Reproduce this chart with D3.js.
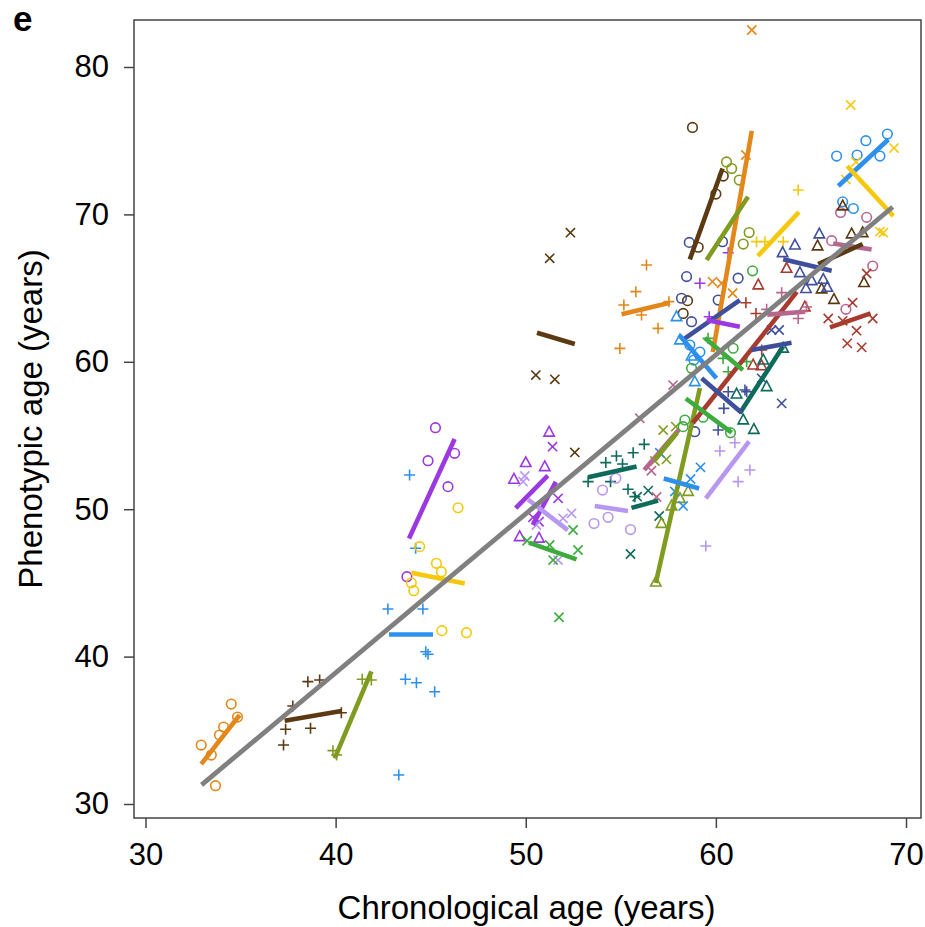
<!DOCTYPE html>
<html><head><meta charset="utf-8">
<script src="https://cdn.jsdelivr.net/npm/d3@7"></script>
<style>body{margin:0;background:#fff}svg{display:block}</style>
</head><body>
<svg id="c" width="925" height="927"></svg>
<script>
const xTicks = [30,40,50,60,70];
const yTicks = [30,40,50,60,70,80];
const overallFit = [[32.95,31.3],[69.3,70.5]];

// points: subject, chronological age, phenotypic age
const points = [
["S01",34.51,36.78],["S01",34.84,35.90],["S01",34.11,35.22],["S01",33.89,34.68],["S01",32.93,34.00],["S01",33.46,33.32],["S01",33.68,31.24],
["S02",38.54,38.30],["S02",39.16,38.41],["S02",37.75,36.65],["S02",40.30,36.19],["S02",37.37,35.07],["S02",38.68,35.14],["S02",37.26,34.00],
["S03",41.40,38.46],["S03",41.88,38.41],["S03",39.86,33.62],["S03",40.05,33.32],
["S04",43.89,52.32],["S04",44.21,47.35],["S04",42.75,43.23],["S04",44.59,43.23],["S04",44.74,40.33],["S04",44.86,40.16],["S04",43.67,38.46],["S04",44.25,38.23],["S04",45.21,37.62],["S04",43.32,31.97],
["S05",45.25,55.53],["S05",46.26,53.79],["S05",44.86,53.29],["S05",45.91,51.53],["S05",43.75,45.42],
["S06",46.44,50.10],["S06",44.42,47.46],["S06",45.30,46.33],["S06",45.56,45.76],["S06",43.98,45.01],["S06",44.11,44.47],["S06",45.59,41.76],["S06",46.88,41.62],
["S07",51.23,55.22],["S07",50.00,53.16],["S07",51.00,52.88],["S07",49.38,52.03],["S07",49.68,48.13],["S07",50.70,48.03],
["S08",51.41,54.24],["S08",51.70,50.74],["S08",50.38,49.45],["S08",50.70,49.15],
["S09",49.95,52.25],["S09",49.86,51.87],["S09",51.96,49.38],["S09",52.41,49.72],["S09",50.56,48.93],["S09",51.70,46.55],
["S10",50.07,47.86],["S10",51.26,47.57],["S10",52.49,48.59],["S10",52.75,47.23],["S10",51.44,46.55],["S10",51.75,42.67],
["S11",52.58,53.85],["S11",52.35,68.76],["S11",51.26,67.02],["S11",50.53,59.10],["S11",51.53,58.81],
["S12",56.35,66.57],["S12",55.79,64.76],["S12",55.16,63.85],["S12",56.09,63.17],["S12",56.96,62.27],["S12",54.95,60.91],["S12",57.53,64.08],
["S13",53.28,51.87],["S13",54.21,53.16],["S13",54.77,53.61],["S13",55.09,53.07],["S13",55.65,53.83],["S13",56.23,54.40],["S13",54.46,51.87],["S13",55.38,51.35],["S13",55.74,50.85],
["S14",55.86,50.85],["S14",56.44,51.26],["S14",57.02,49.54],["S14",55.51,46.96],
["S15",54.74,52.10],["S15",54.04,51.30],["S15",53.59,49.03],["S15",54.33,49.45],["S15",55.51,48.62],
["S16",56.00,56.17],["S16",56.61,52.61],["S16",56.88,50.83],["S16",57.75,58.42],
["S17",57.14,49.03],["S17",57.67,50.22],["S17",58.54,51.20],["S17",58.11,50.73],["S17",56.84,45.05],
["S18",57.23,55.37],["S18",57.40,53.38],["S18",56.79,53.27],["S18",57.89,55.60],
["S19",59.19,52.84],["S19",58.67,52.05],["S19",57.84,51.20],["S19",58.28,50.22],["S19",57.05,53.83],
["S20",60.21,53.95],["S20",61.00,54.51],["S20",61.17,51.87],["S20",61.79,52.66],["S20",59.47,47.50],
["S21",58.77,75.90],["S21",60.39,72.60],["S21",60.00,71.38],["S21",59.07,67.77],["S21",58.51,64.15],["S21",58.28,63.28],
["S22",61.58,74.03],["S22",61.89,82.51],["S22",59.82,65.44],["S22",60.30,65.33],["S22",60.88,64.65],
["S23",60.56,73.56],["S23",60.83,73.11],["S23",61.23,72.33],["S23",61.75,68.77],["S23",61.44,67.99],
["S24",62.14,68.15],["S24",62.58,68.15],["S24",63.54,68.15],["S24",64.33,71.66],
["S25",69.02,75.45],["S25",67.89,75.00],["S25",66.35,73.96],["S25",67.43,74.03],["S25",68.63,73.96],["S25",66.67,70.85],["S25",67.23,70.40],
["S26",67.09,77.42],["S26",69.37,74.50],["S26",67.37,73.56],["S26",66.84,72.37],["S26",68.63,68.83],["S26",68.81,68.76],
["S27",66.56,70.13],["S27",67.93,69.80],["S27",66.09,68.22],["S27",68.25,66.50],["S27",66.84,63.56],
["S28",66.67,70.57],["S28",65.35,67.86],["S28",67.14,68.67],["S28",67.72,68.76],["S28",67.79,65.37],["S28",66.21,64.23],["S28",65.56,64.94],
["S29",65.44,68.67],["S29",64.16,67.92],["S29",63.51,67.40],["S29",64.42,66.04],["S29",65.04,65.50],["S29",65.65,65.59],["S29",65.86,65.05],["S29",64.74,64.97],
["S30",65.91,62.94],["S30",66.67,62.78],["S30",67.19,64.01],["S30",67.40,62.11],["S30",66.91,61.25],["S30",67.67,60.98],["S30",68.25,62.94],["S30",67.93,65.99],
["S31",62.23,65.21],["S31",63.72,66.34],["S31",61.96,59.78],["S31",62.40,59.73],["S31",64.68,63.72],
["S32",63.46,64.69],["S32",62.67,63.56],["S32",64.33,62.94],["S32",64.77,63.72],
["S33",61.58,64.01],["S33",62.11,63.28],["S33",62.41,60.80],
["S34",61.09,57.81],["S34",61.44,56.05],["S34",62.67,58.31],["S34",62.49,60.12],["S34",63.54,60.92],["S34",62.00,55.41],
["S35",60.65,57.97],["S35",61.62,57.97],["S35",60.12,55.37],["S35",60.42,56.84],["S35",61.53,58.09],
["S36",58.46,65.78],["S36",58.19,64.31],["S36",58.72,62.72],["S36",61.17,65.67],["S36",60.12,64.19],["S36",58.89,55.26],["S36",58.60,68.10],["S36",60.35,68.15],
["S37",63.33,62.16],["S37",62.41,58.88],["S37",63.46,57.18],["S37",62.93,62.16],
["S38",57.93,63.06],["S38",58.11,61.48],["S38",58.72,60.39],["S38",58.89,58.65],
["S39",58.63,61.14],["S39",59.16,60.66],["S39",58.84,60.12],
["S40",61.93,66.17],["S40",60.91,60.92],["S40",58.72,59.56],["S40",58.28,55.60],["S40",58.37,56.05],["S40",59.33,56.24],["S40",60.77,55.19],
["S41",59.59,61.59],["S41",60.38,60.23],["S41",60.65,59.33],["S41",61.62,60.01],
["S42",59.65,63.06],["S42",60.65,67.40],["S42",59.16,65.33]
];

// per-subject fitted segments: subject, x1, y1, x2, y2
const fits = [
["S01",32.93,32.71,34.95,36.04],
["S02",37.32,35.65,40.30,36.31],
["S03",39.95,33.10,41.88,39.00],
["S04",42.81,41.50,45.12,41.50],
["S05",43.86,48.01,46.26,54.76],
["S06",43.98,45.69,46.79,44.96],
["S07",49.47,50.08,51.16,52.28],
["S08",50.37,48.93,51.58,51.85],
["S09",50.12,50.66,52.21,48.58],
["S10",50.17,47.73,52.67,46.60],
["S11",50.59,61.97,52.58,61.21],
["S12",55.04,63.22,57.58,64.01],
["S13",53.28,52.17,55.83,52.89],
["S14",55.56,50.09,56.96,50.58],
["S15",53.63,50.22,55.38,49.88],
["S16",56.23,52.66,58.04,55.37],
["S17",56.84,45.00,59.16,58.22],
["S18",56.79,53.34,57.96,55.19],
["S19",57.26,52.08,59.12,51.40],
["S20",59.47,50.73,61.75,54.60],
["S21",58.63,66.95,60.35,73.12],
["S22",61.89,75.66,59.84,60.66],
["S23",61.69,71.20,59.51,66.91],
["S24",62.21,67.18,64.37,70.15],
["S25",66.44,71.93,69.07,75.08],
["S26",66.91,73.28,69.33,69.89],
["S27",66.17,68.03,68.19,67.62],
["S28",65.38,66.63,67.72,67.99],
["S29",63.54,66.95,66.09,66.17],
["S30",66.00,62.34,68.14,63.29],
["S31",58.79,55.85,64.26,64.74],
["S32",62.70,63.20,64.70,63.40],
["S34",61.26,56.51,63.54,61.06],
["S35",59.25,58.88,61.35,56.55],
["S36",58.26,61.48,61.26,64.19],
["S37",61.88,60.80,63.98,61.30],
["S38",58.07,61.82,60.03,58.88],
["S40",58.42,57.51,60.83,55.19],
["S41",59.42,61.61,61.42,59.44],
["S42",59.51,62.84,61.26,62.38]
];

// styles (colour, marker) per subject
const C = {orange:"#E3871A",brown:"#5B3A12",olive:"#7F9B20",blue:"#2E90EC",purple:"#9B38DF",gold:"#F5C80C",
  lpurple:"#B897F0",green:"#3EAB3E",teal:"#0E6A5B",mauve:"#B7678F",bred:"#A63B2E",navy:"#3F4F9B"};
const style = {
S01:[C.orange,"o"],S02:[C.brown,"+"],S03:[C.olive,"+"],S04:[C.blue,"+"],S05:[C.purple,"o"],S06:[C.gold,"o"],
S07:[C.purple,"t"],S08:[C.purple,"x"],S09:[C.lpurple,"x"],S10:[C.green,"x"],S11:[C.brown,"x"],S12:[C.orange,"+"],
S13:[C.teal,"+"],S14:[C.teal,"x"],S15:[C.lpurple,"o"],S16:[C.mauve,"x"],S17:[C.olive,"t"],S18:[C.olive,"x"],
S19:[C.blue,"x"],S20:[C.lpurple,"+"],S21:[C.brown,"o"],S22:[C.orange,"x"],S23:[C.olive,"o"],S24:[C.gold,"+"],
S25:[C.blue,"o"],S26:[C.gold,"x"],S27:[C.mauve,"o"],S28:[C.brown,"t"],S29:[C.navy,"t"],S30:[C.bred,"x"],
S31:[C.bred,"t"],S32:[C.mauve,"+"],S33:[C.bred,"+"],S34:[C.teal,"t"],S35:[C.navy,"+"],S36:[C.navy,"o"],
S37:[C.navy,"x"],S38:[C.blue,"t"],S39:[C.blue,"o"],S40:[C.green,"o"],S41:[C.green,"+"],S42:[C.purple,"+"]
};

const svg = d3.select("#c");
const x = d3.scaleLinear().domain([30,70]).range([145.5,906]);
const y = d3.scaleLinear().domain([30,80]).range([804,67]);
const pL=134, pR=921, pT=20, pB=818;
const font = "'Liberation Sans', Arial, Helvetica, sans-serif";

svg.append("text").attr("x",13).attr("y",31).attr("font-family",font).attr("font-weight","bold")
  .attr("font-size",35).text("e");

const xa = svg.append("g").attr("transform",`translate(0,${pB})`)
  .call(d3.axisBottom(x).tickValues(xTicks).tickSize(10).tickPadding(15).tickFormat(d3.format("d")));
const ya = svg.append("g").attr("transform",`translate(${pL},0)`)
  .call(d3.axisLeft(y).tickValues(yTicks).tickSize(10).tickPadding(15).tickFormat(d3.format("d")));
[xa,ya].forEach(a=>{
  a.select(".domain").remove();
  a.selectAll(".tick line").attr("stroke","#444").attr("stroke-width",1.5);
  a.selectAll(".tick text").attr("font-family",font).attr("font-size",31).attr("fill","#000");
});
xa.selectAll(".tick text").attr("dy","0.71em");

svg.append("text").attr("x",(pL+pR)/2-1).attr("y",919).attr("text-anchor","middle")
  .attr("font-family",font).attr("font-size",33).text("Chronological age (years)");
svg.append("text").attr("transform",`translate(42,${(pT+pB)/2}) rotate(-90)`).attr("text-anchor","middle")
  .attr("font-family",font).attr("font-size",33).text("Phenotypic age (years)");

const plot = svg.append("g");
const shapes = {
  "+":"M-5.5,0H5.5M0,-5.5V5.5",
  "x":"M-4.6,-4.6L4.6,4.6M-4.6,4.6L4.6,-4.6",
  "t":"M0,-5.8L5.2,3.9H-5.2Z"
};
points.forEach(p=>{
  const [col,sh] = style[p[0]];
  if(sh==="o"){
    plot.append("circle").attr("cx",x(p[1])).attr("cy",y(p[2])).attr("r",4.8)
      .attr("fill","none").attr("stroke",col).attr("stroke-width",1.6);
  } else {
    plot.append("path").attr("d",shapes[sh]).attr("transform",`translate(${x(p[1])},${y(p[2])})`)
      .attr("fill","none").attr("stroke",col).attr("stroke-width",1.6);
  }
});
plot.selectAll("line.fit").data(fits).join("line").attr("class","fit")
  .attr("x1",d=>x(d[1])).attr("y1",d=>y(d[2])).attr("x2",d=>x(d[3])).attr("y2",d=>y(d[4]))
  .attr("stroke",d=>style[d[0]][0]).attr("stroke-width",4.6);

plot.append("line").attr("x1",x(overallFit[0][0])).attr("y1",y(overallFit[0][1]))
  .attr("x2",x(overallFit[1][0])).attr("y2",y(overallFit[1][1]))
  .attr("stroke","#808080").attr("stroke-width",4.8);

svg.append("rect").attr("x",pL).attr("y",pT).attr("width",pR-pL).attr("height",pB-pT)
  .attr("fill","none").attr("stroke","#444").attr("stroke-width",1.5);
</script>
</body></html>
